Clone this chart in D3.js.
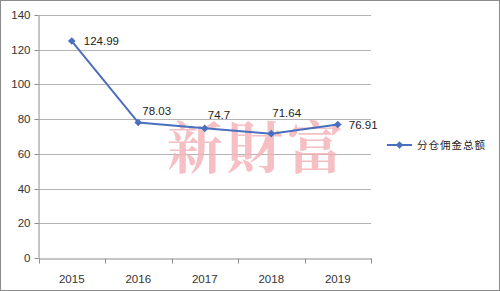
<!DOCTYPE html>
<html><head><meta charset="utf-8">
<script src="https://cdn.jsdelivr.net/npm/d3@7"></script>
<style>html,body{margin:0;padding:0;background:#fff}svg{display:block}</style>
</head><body>
<script>
const categories = ["2015","2016","2017","2018","2019"];
const values = [124.99, 78.03, 74.7, 71.64, 76.91];
const valueLabels = ["124.99","78.03","74.7","71.64","76.91"];
const yTicks = [0,20,40,60,80,100,120,140];
const seriesName = "分仓佣金总额";

(function(){
const W = 500, H = 291;
const svg = d3.select("body").append("svg").attr("width", W).attr("height", H);
svg.append("rect").attr("x",0.5).attr("y",0.5).attr("width",W-1).attr("height",H-1)
  .attr("fill","#fff").attr("stroke","#8c8c8c");

const mLeft = 38.5, mRight = 371, mTop = 15, mBottom = 258;
const x = d3.scaleBand().domain(categories).range([mLeft, mRight]);
const y = d3.scaleLinear().domain([0,140]).range([mBottom, mTop]);

// gridlines
svg.append("g").selectAll("line").data(yTicks.filter(d=>d>0)).join("line")
  .attr("x1", mLeft).attr("x2", mRight)
  .attr("y1", d=>Math.round(y(d))+0.5).attr("y2", d=>Math.round(y(d))+0.5)
  .attr("stroke","#b4b4b4").attr("stroke-width",1);

// watermark
svg.append("text").attr("x", 257).attr("y", 168).attr("text-anchor","middle")
  .attr("font-family","'Noto Serif CJK TC','Noto Sans CJK TC',serif").attr("font-weight",700)
  .attr("font-size",56).attr("fill","#f4b0b6").attr("opacity",0.8)
  .attr("letter-spacing", 4)
  .text("新財富");

// y axis
const yAxis = svg.append("g").attr("transform",`translate(${mLeft},0)`)
  .call(d3.axisLeft(y).tickValues(yTicks).tickSize(4).tickSizeOuter(0).tickPadding(4));
yAxis.select(".domain").attr("stroke","#8c8c8c");
yAxis.selectAll(".tick line").attr("stroke","#8c8c8c");
yAxis.selectAll(".tick").attr("transform", d=>`translate(0,${Math.round(y(d))+0.5})`);
yAxis.selectAll("text").attr("font-family","'Liberation Sans',Arial,sans-serif").attr("font-size",11.5).attr("fill","#333");

// x axis
const xAxis = svg.append("g").attr("transform",`translate(0,${Math.round(mBottom)+0.5})`)
  .call(d3.axisBottom(x).tickSize(0).tickPadding(16));
xAxis.select(".domain").attr("stroke","#8c8c8c");
xAxis.selectAll("text").attr("font-family","'Liberation Sans',Arial,sans-serif").attr("font-size",11.5).attr("fill","#333");
const bounds = categories.map(c=>x(c)).concat([mRight]);
xAxis.selectAll(".bt").data(bounds).join("line").attr("class","bt")
  .attr("x1", d=>Math.round(d)+0.5).attr("x2", d=>Math.round(d)+0.5)
  .attr("y1",0).attr("y2",5).attr("stroke","#8c8c8c");

// line
const color = "#4a6fbf";
const cx = d=>x(d)+x.bandwidth()/2;
const pts = categories.map((c,i)=>[cx(c), y(values[i])]);
svg.append("path").attr("d", d3.line()(pts)).attr("fill","none")
  .attr("stroke", color).attr("stroke-width",2);
const r = 3.8;
const diamondPath = `M0,${-r}L${r},0L0,${r}L${-r},0Z`;
svg.append("g").selectAll("path").data(pts).join("path")
  .attr("transform", d=>`translate(${d[0]},${d[1]})`).attr("d", diamondPath)
  .attr("fill", color);

// data labels (placement offsets)
const labelOffsets = [[12,0],[4,-12],[3,-13],[1,-21],[11,0]];
svg.append("g").selectAll("text").data(pts).join("text")
  .attr("x",(d,i)=>d[0]+labelOffsets[i][0]).attr("y",(d,i)=>d[1]+labelOffsets[i][1])
  .attr("dy","0.35em")
  .attr("font-family","'Liberation Sans',Arial,sans-serif").attr("font-size",11.5).attr("fill","#222")
  .text((d,i)=>valueLabels[i]);

// legend
const lg = svg.append("g").attr("transform","translate(387,145)");
lg.append("line").attr("x1",0).attr("x2",25).attr("y1",0).attr("y2",0).attr("stroke",color).attr("stroke-width",2);
lg.append("path").attr("transform","translate(12.5,0)").attr("d",diamondPath).attr("fill",color);
lg.append("text").attr("x",30).attr("y",0).attr("dy","0.35em")
  .attr("font-family","'Noto Sans CJK SC',sans-serif").attr("font-size",10.5).attr("fill","#222")
  .attr("letter-spacing",1)
  .text(seriesName);
})();
</script>
</body></html>
